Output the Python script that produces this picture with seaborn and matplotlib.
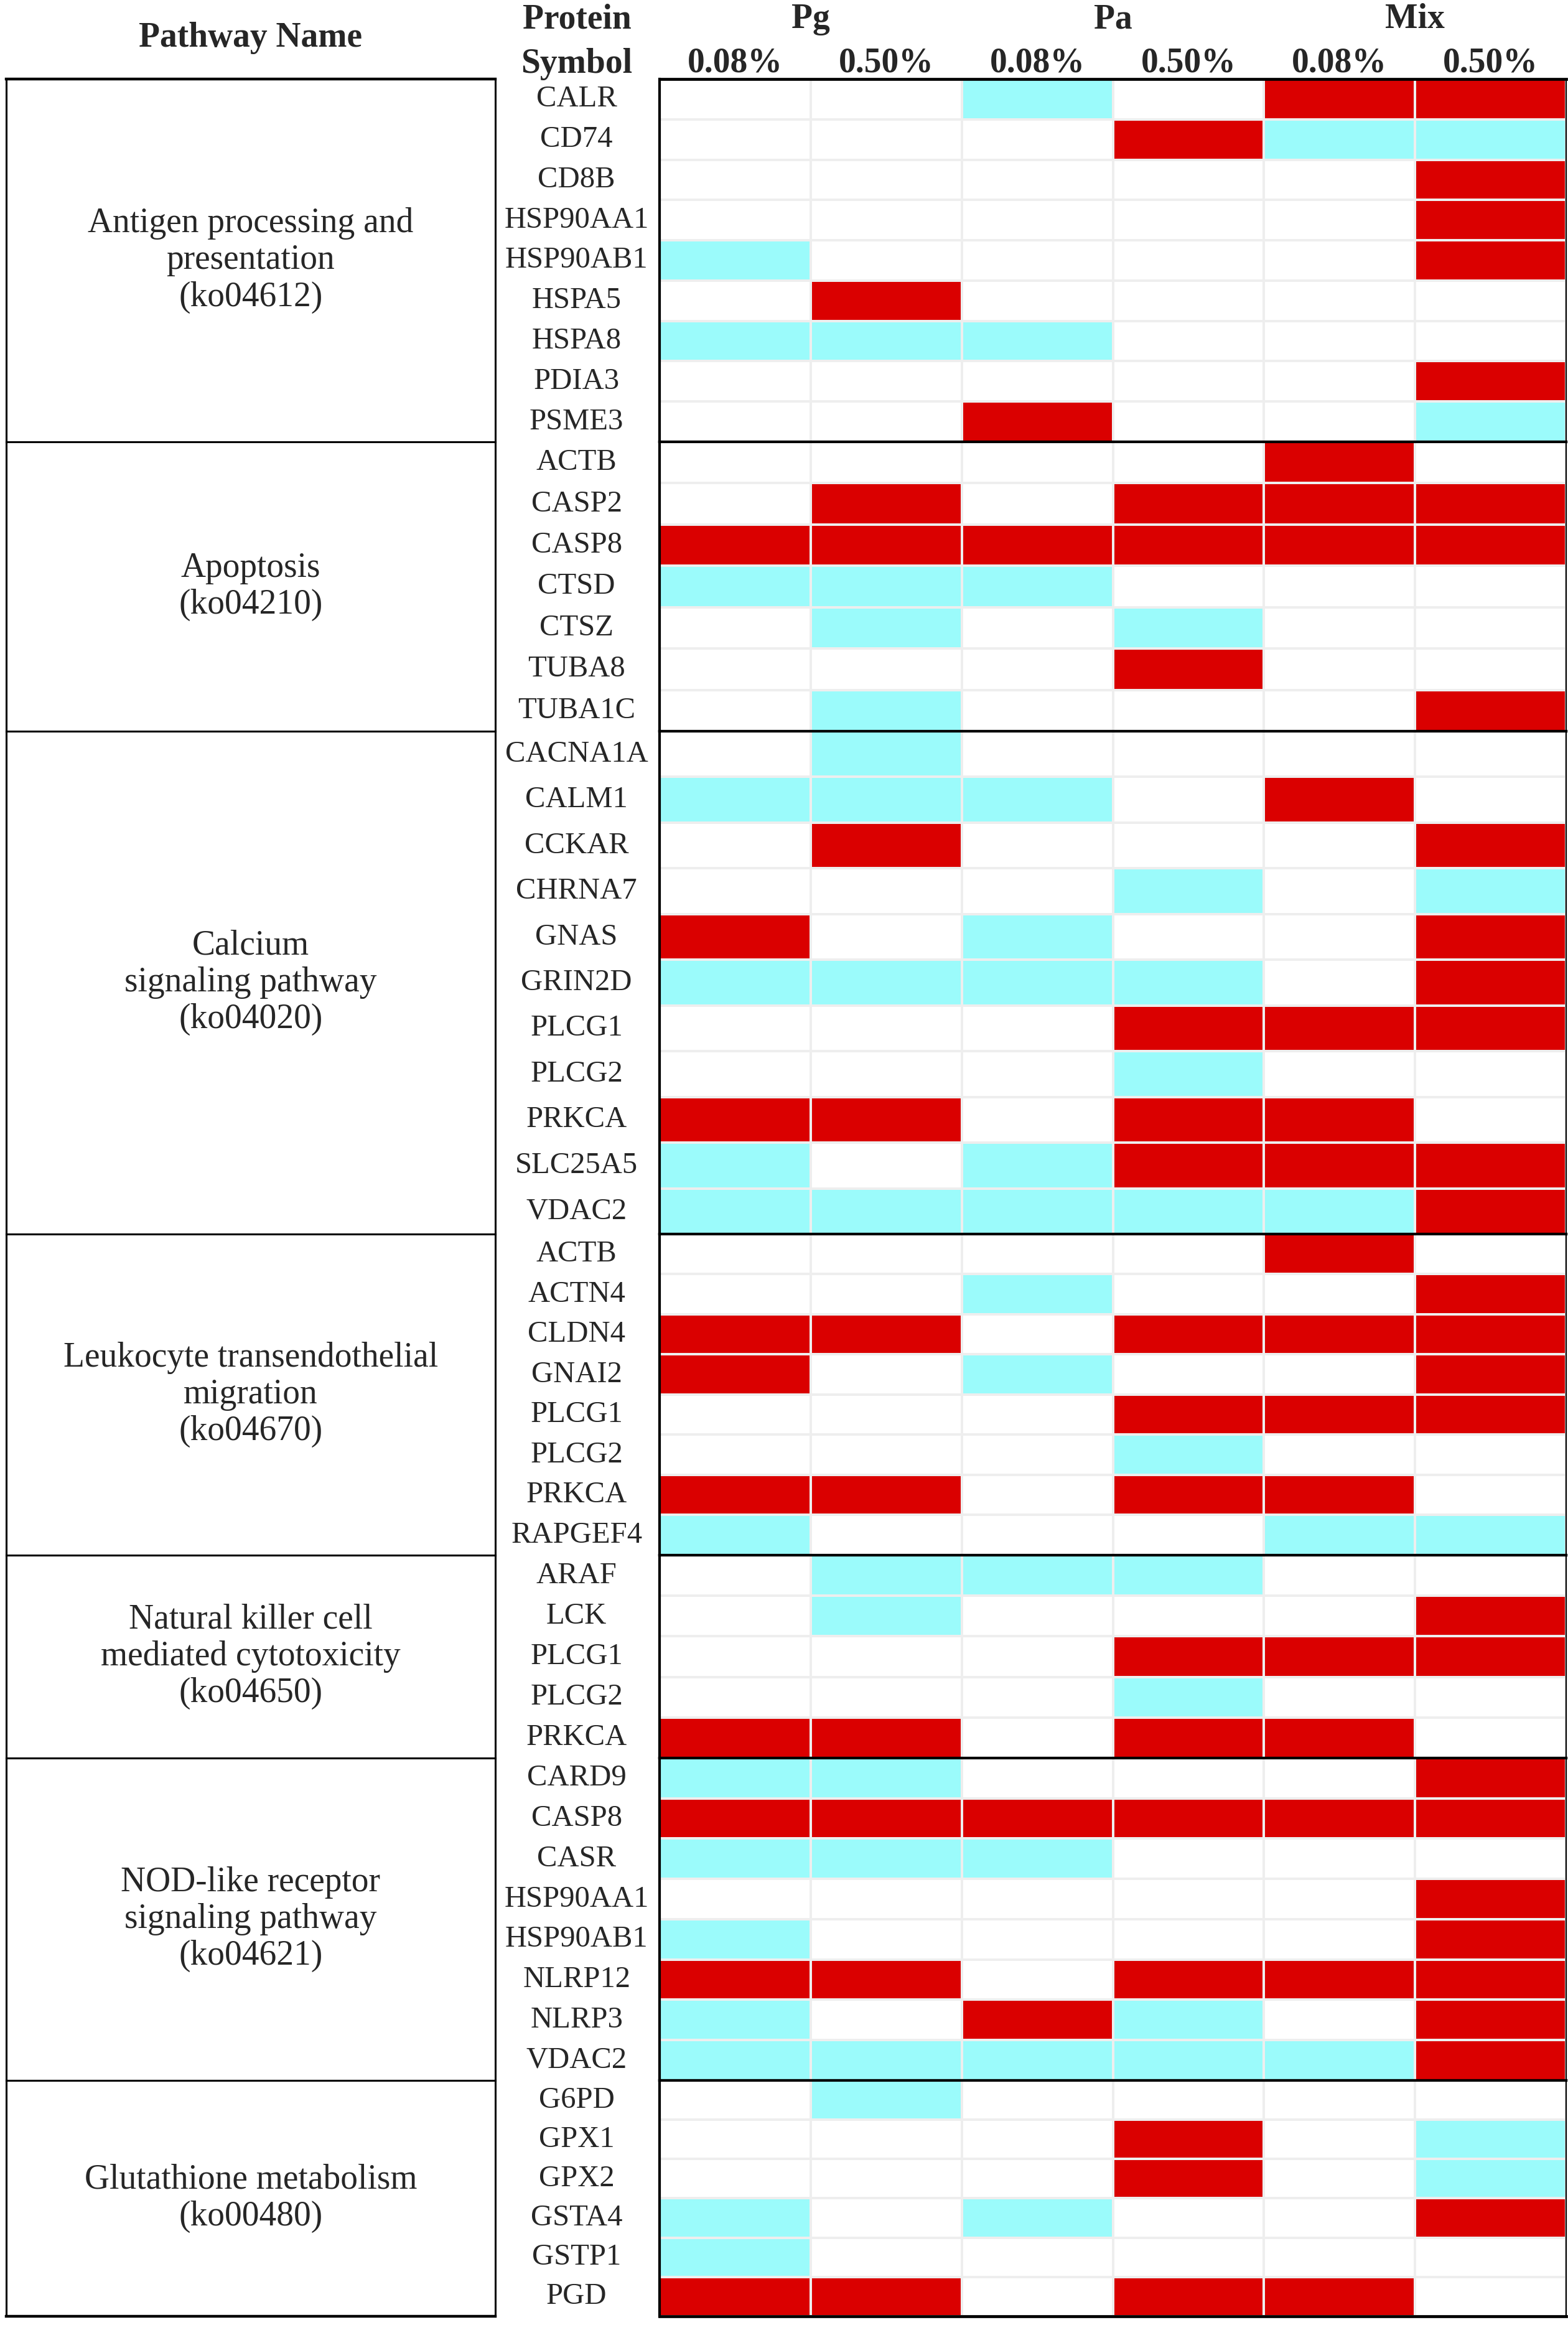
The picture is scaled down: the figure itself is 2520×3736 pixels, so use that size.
import numpy as np
import pandas as pd
import matplotlib
matplotlib.use("Agg")
import matplotlib.pyplot as plt
from matplotlib.colors import ListedColormap
import seaborn as sns

# treatment columns
strains = ["Pg", "Pa", "Mix"]
doses = ["0.08%", "0.50%"]

# KEGG pathways (label shown in the left boxes)
pathways = [
    "Antigen processing and\npresentation\n(ko04612)",
    "Apoptosis\n(ko04210)",
    "Calcium\nsignaling pathway\n(ko04020)",
    "Leukocyte transendothelial\nmigration\n(ko04670)",
    "Natural killer cell\nmediated cytotoxicity\n(ko04650)",
    "NOD-like receptor\nsignaling pathway\n(ko04621)",
    "Glutathione metabolism\n(ko00480)",
]

antigen_genes = ["CALR", "CD74", "CD8B", "HSP90AA1", "HSP90AB1", "HSPA5", "HSPA8", "PDIA3", "PSME3"]
antigen_vals = [
    [0, 0, -1, 0, 1, 1],
    [0, 0, 0, 1, -1, -1],
    [0, 0, 0, 0, 0, 1],
    [0, 0, 0, 0, 0, 1],
    [-1, 0, 0, 0, 0, 1],
    [0, 1, 0, 0, 0, 0],
    [-1, -1, -1, 0, 0, 0],
    [0, 0, 0, 0, 0, 1],
    [0, 0, 1, 0, 0, -1],
]

apoptosis_genes = ["ACTB", "CASP2", "CASP8", "CTSD", "CTSZ", "TUBA8", "TUBA1C"]
apoptosis_vals = [
    [0, 0, 0, 0, 1, 0],
    [0, 1, 0, 1, 1, 1],
    [1, 1, 1, 1, 1, 1],
    [-1, -1, -1, 0, 0, 0],
    [0, -1, 0, -1, 0, 0],
    [0, 0, 0, 1, 0, 0],
    [0, -1, 0, 0, 0, 1],
]

calcium_genes = ["CACNA1A", "CALM1", "CCKAR", "CHRNA7", "GNAS", "GRIN2D",
                 "PLCG1", "PLCG2", "PRKCA", "SLC25A5", "VDAC2"]
calcium_vals = [
    [0, -1, 0, 0, 0, 0],
    [-1, -1, -1, 0, 1, 0],
    [0, 1, 0, 0, 0, 1],
    [0, 0, 0, -1, 0, -1],
    [1, 0, -1, 0, 0, 1],
    [-1, -1, -1, -1, 0, 1],
    [0, 0, 0, 1, 1, 1],
    [0, 0, 0, -1, 0, 0],
    [1, 1, 0, 1, 1, 0],
    [-1, 0, -1, 1, 1, 1],
    [-1, -1, -1, -1, -1, 1],
]

leuko_genes = ["ACTB", "ACTN4", "CLDN4", "GNAI2", "PLCG1", "PLCG2", "PRKCA", "RAPGEF4"]
leuko_vals = [
    [0, 0, 0, 0, 1, 0],
    [0, 0, -1, 0, 0, 1],
    [1, 1, 0, 1, 1, 1],
    [1, 0, -1, 0, 0, 1],
    [0, 0, 0, 1, 1, 1],
    [0, 0, 0, -1, 0, 0],
    [1, 1, 0, 1, 1, 0],
    [-1, 0, 0, 0, -1, -1],
]

nk_genes = ["ARAF", "LCK", "PLCG1", "PLCG2", "PRKCA"]
nk_vals = [
    [0, -1, -1, -1, 0, 0],
    [0, -1, 0, 0, 0, 1],
    [0, 0, 0, 1, 1, 1],
    [0, 0, 0, -1, 0, 0],
    [1, 1, 0, 1, 1, 0],
]

nod_genes = ["CARD9", "CASP8", "CASR", "HSP90AA1", "HSP90AB1", "NLRP12", "NLRP3", "VDAC2"]
nod_vals = [
    [-1, -1, 0, 0, 0, 1],
    [1, 1, 1, 1, 1, 1],
    [-1, -1, -1, 0, 0, 0],
    [0, 0, 0, 0, 0, 1],
    [-1, 0, 0, 0, 0, 1],
    [1, 1, 0, 1, 1, 1],
    [-1, 0, 1, -1, 0, 1],
    [-1, -1, -1, -1, -1, 1],
]

glut_genes = ["G6PD", "GPX1", "GPX2", "GSTA4", "GSTP1", "PGD"]
glut_vals = [
    [0, -1, 0, 0, 0, 0],
    [0, 0, 0, 1, 0, -1],
    [0, 0, 0, 1, 0, -1],
    [-1, 0, -1, 0, 0, 1],
    [-1, 0, 0, 0, 0, 0],
    [1, 1, 0, 1, 1, 0],
]

genes = [antigen_genes, apoptosis_genes, calcium_genes, leuko_genes, nk_genes, nod_genes, glut_genes]
vals = [antigen_vals, apoptosis_vals, calcium_vals, leuko_vals, nk_vals, nod_vals, glut_vals]

sns.set_style("white")
plt.rcParams["font.family"] = ["Liberation Serif", "DejaVu Serif"]

W, H = 2520, 3736
fig = plt.figure(figsize=(W / 100, H / 100), dpi=100)

# group heights in pixels (calcium rows are a bit taller in the original)
group_px = [583, 465, 808, 516, 326, 518, 379]
top_px, bot_px = 127, 3722
gs = fig.add_gridspec(len(pathways), 3, left=10 / W, right=2517 / W,
                      top=1 - top_px / H, bottom=1 - bot_px / H,
                      height_ratios=group_px, width_ratios=[786, 264, 1457],
                      hspace=0, wspace=0)

cmap = ListedColormap(["#9bfbfb", "#ffffff", "#da0000"])
cols = [f"{s} {d}" for s in strains for d in doses]

for i, (name, g, v) in enumerate(zip(pathways, genes, vals)):
    # pathway box
    bx = fig.add_subplot(gs[i, 0])
    bx.set_xticks([])
    bx.set_yticks([])
    for side, sp in bx.spines.items():
        sp.set_visible(True)
        sp.set_color("black")
        sp.set_linewidth(2.2)
    if i == 0:
        bx.spines["top"].set_linewidth(3.2)
    if i == len(pathways) - 1:
        bx.spines["bottom"].set_linewidth(3.2)
    bx.text(0.5, 0.5, name, ha="center", va="center", fontsize=40,
            linespacing=1.18, transform=bx.transAxes)

    # heatmap block
    ax = fig.add_subplot(gs[i, 2])
    df = pd.DataFrame(v, index=g, columns=cols)
    sns.heatmap(df, ax=ax, cmap=cmap, vmin=-1.5, vmax=1.5, cbar=False,
                linewidths=2.8, linecolor="#eeeeee",
                xticklabels=doses * 3 if i == 0 else False, yticklabels=True)
    ax.tick_params(axis="y", length=0, pad=96, labelsize=35)
    for lbl in ax.get_yticklabels():
        lbl.set_ha("center")
        lbl.set_rotation(0)
    for side, sp in ax.spines.items():
        sp.set_visible(True)
        sp.set_color("black")
        sp.set_linewidth(3.0)
    ax.spines["right"].set_linewidth(1.6)
    if i == 0:
        ax.spines["top"].set_linewidth(3.4)
        ax.xaxis.tick_top()
        ax.tick_params(axis="x", length=0, pad=0, labelsize=40)
        for lbl in ax.get_xticklabels():
            lbl.set_fontweight("bold")
            lbl.set_rotation(0)
        # strain names above each pair of dose columns
        yb = 1 + (top_px - 45) / group_px[0]
        for k, s in enumerate(strains):
            ax.text(2 * k + 1, yb, s, ha="center", va="baseline", fontsize=40,
                    fontweight="bold", transform=ax.get_xaxis_transform())
    if i == len(pathways) - 1:
        ax.spines["bottom"].set_linewidth(3.4)
    ax.set_xlabel("")
    ax.set_ylabel("")

# column headers on the left
fig.text(403 / W, 1 - 75 / H, "Pathway Name", ha="center", va="baseline",
         fontsize=40, fontweight="bold")
fig.text(927 / W, 1 - 45 / H, "Protein", ha="center", va="baseline",
         fontsize=40, fontweight="bold")
fig.text(927 / W, 1 - 117 / H, "Symbol", ha="center", va="baseline",
         fontsize=40, fontweight="bold")

fig.savefig("out.png", dpi=100, facecolor="white")
